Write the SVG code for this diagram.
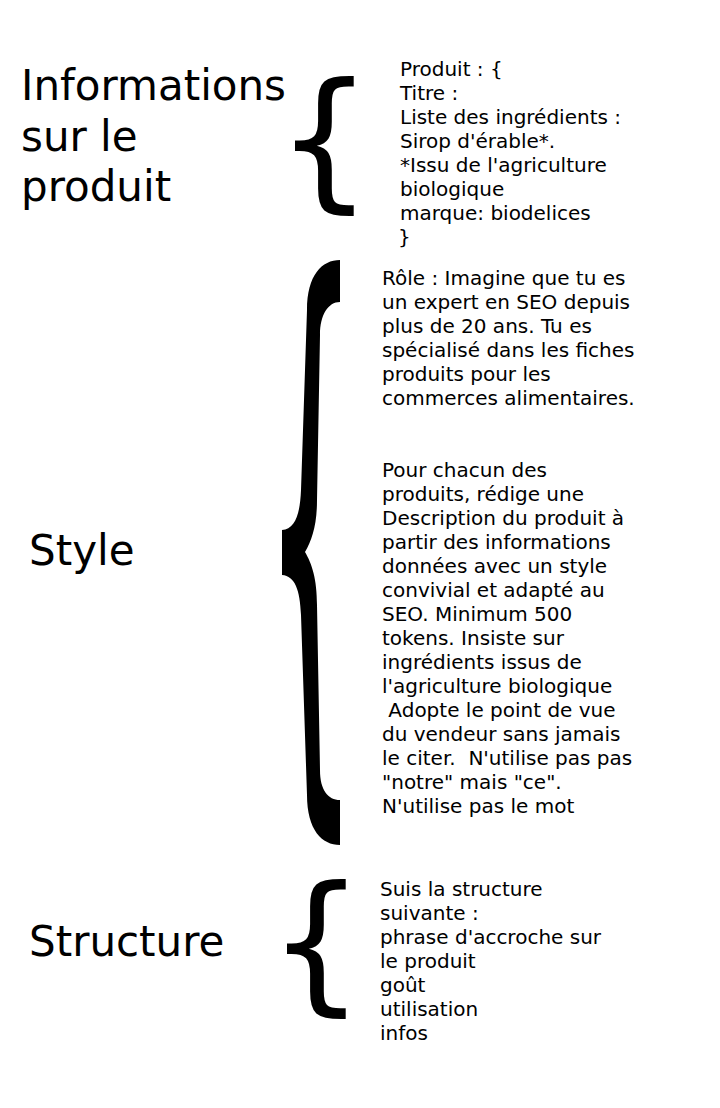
<svg xmlns="http://www.w3.org/2000/svg" width="720" height="1108" viewBox="0 0 720 1108">
<style>
text{font-family:"DejaVu Sans","Liberation Sans",sans-serif;fill:#000;white-space:pre}
.lbl{font-size:42px}
.body{font-size:20px}
.brace{font-size:152px}
</style>
<rect width="720" height="1108" fill="#fff"/>
<g id="info">
<text class="lbl" x="21" y="100">Informations</text>
<text class="lbl" x="21" y="151">sur le</text>
<text class="lbl" x="21" y="201">produit</text>
<text class="brace" x="276" y="191">{</text>
<text class="body" x="400" y="76">Produit : {</text>
<text class="body" x="400" y="100">Titre :</text>
<text class="body" x="400" y="124">Liste des ingrédients :</text>
<text class="body" x="400" y="148">Sirop d'érable*.</text>
<text class="body" x="400" y="172">*Issu de l'agriculture</text>
<text class="body" x="400" y="196">biologique</text>
<text class="body" x="400" y="220">marque: biodelices</text>
<text class="body" x="398" y="244">}</text>
</g>
<g id="style">
<text class="lbl" x="29" y="565">Style</text>
<path d="M340 260 L340 302 C328 302 320 315 320 335 L317 500 C317 525 312 540 305 552 C312 564 317 579 317 605 L320 770 C320 790 328 800 340 800 L340 845 C322 845 307 830 307 795 L301 615 C300 590 295 576 282 575 L282 530 C295 529 300 515 301 490 L307 310 C307 275 322 260 340 260 Z" fill="#000"/>
<text class="body" x="382" y="285">Rôle : Imagine que tu es</text>
<text class="body" x="382" y="309">un expert en SEO depuis</text>
<text class="body" x="382" y="333">plus de 20 ans. Tu es</text>
<text class="body" x="382" y="357">spécialisé dans les fiches</text>
<text class="body" x="382" y="381">produits pour les</text>
<text class="body" x="382" y="405">commerces alimentaires.</text>
<text class="body" x="382" y="477">Pour chacun des</text>
<text class="body" x="382" y="501">produits, rédige une</text>
<text class="body" x="382" y="525">Description du produit à</text>
<text class="body" x="382" y="549">partir des informations</text>
<text class="body" x="382" y="573">données avec un style</text>
<text class="body" x="382" y="597">convivial et adapté au</text>
<text class="body" x="382" y="621">SEO. Minimum 500</text>
<text class="body" x="382" y="645">tokens. Insiste sur</text>
<text class="body" x="382" y="669">ingrédients issus de</text>
<text class="body" x="382" y="693">l'agriculture biologique</text>
<text class="body" x="382" y="717"> Adopte le point de vue</text>
<text class="body" x="382" y="741">du vendeur sans jamais</text>
<text class="body" x="382" y="765">le citer.  N'utilise pas pas</text>
<text class="body" x="382" y="789">"notre" mais "ce".</text>
<text class="body" x="382" y="813">N'utilise pas le mot</text>
</g>
<g id="structure">
<text class="lbl" x="29" y="956">Structure</text>
<text class="brace" x="268" y="994">{</text>
<text class="body" x="380" y="896">Suis la structure</text>
<text class="body" x="380" y="920">suivante :</text>
<text class="body" x="380" y="944">phrase d'accroche sur</text>
<text class="body" x="380" y="968">le produit</text>
<text class="body" x="380" y="992">goût</text>
<text class="body" x="380" y="1016">utilisation</text>
<text class="body" x="380" y="1040">infos</text>
</g>
<g id="connectors"></g>
</svg>
